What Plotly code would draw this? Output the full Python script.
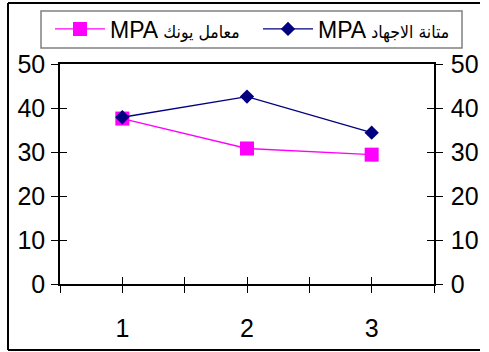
import plotly.graph_objects as go

categories = [1, 2, 3]
young_modulus = [37.6, 30.8, 29.4]      # معامل يونك MPA
stress_strength = [37.9, 42.6, 34.4]    # متانة الاجهاد MPA
y_ticks = [0, 10, 20, 30, 40, 50]
x_tickvals = [0.5, 1, 1.5, 2, 2.5, 3, 3.5]
x_ticktext = ["", "1", "", "2", "", "3", ""]

W, H = 489, 352
L, R, T, B = 60, 55, 64, 68
pw, ph = W - L - R, H - T - B

def px(x):
    return (x - L) / pw

def py(y):
    return (H - B - y) / ph

FONT = "Liberation Sans Narrow, Liberation Sans, Arial, sans-serif"
AR = "<span style='font-family:DejaVu Sans Condensed, DejaVu Sans;font-size:17.5px'>{}</span>"

fig = go.Figure()
fig.add_trace(go.Scatter(
    x=categories, y=young_modulus, mode="lines+markers",
    name="MPA " + AR.format("معامل يونك"), legend="legend",
    line=dict(color="#FF00FF", width=1.3),
    marker=dict(symbol="square", size=14, color="#FF00FF"),
))
fig.add_trace(go.Scatter(
    x=categories, y=stress_strength, mode="lines+markers",
    name="MPA " + AR.format("متانة الاجهاد"), legend="legend2",
    line=dict(color="#000080", width=1.3),
    marker=dict(symbol="diamond", size=11, color="#000080"),
))
# empty traces so the extra (tick-only) axes get drawn
for xa, ya in [("x", "y2"), ("x2", "y3"), ("x", "y4")]:
    fig.add_trace(go.Scatter(x=[], y=[], xaxis=xa, yaxis=ya, showlegend=False, hoverinfo="skip"))

tick_common = dict(showgrid=False, zeroline=False, tickcolor="black", tickwidth=1.3, ticklen=7)
line_common = dict(linecolor="black", linewidth=1.5)
tickfont = dict(family=FONT, size=25, color="black")
legfont = dict(family=FONT, size=23, color="black")

leg_common = dict(orientation="h", xanchor="left", yanchor="middle", bgcolor="rgba(0,0,0,0)",
                  borderwidth=0, font=legfont, itemwidth=50, tracegroupgap=0)

frame = dict(color="black", width=2)
fig.update_layout(
    width=W, height=H,
    margin=dict(l=L, r=R, t=T, b=B, pad=0, autoexpand=False),
    paper_bgcolor="white", plot_bgcolor="white",
    showlegend=True,
    legend=dict(x=px(50), y=py(29), **leg_common),
    legend2=dict(x=px(258), y=py(29), **leg_common),
    xaxis=dict(range=[0.5, 3.5], tickmode="array", tickvals=x_tickvals, ticktext=x_ticktext,
               ticks="outside", showline=True, mirror=True, tickfont=tickfont,
               ticklabelstandoff=14, **tick_common, **line_common),
    xaxis2=dict(range=[0.5, 3.5], overlaying="x", side="bottom", anchor="y",
                tickmode="array", tickvals=x_tickvals, ticks="inside", showticklabels=False,
                showline=False, **tick_common),
    yaxis=dict(range=[0, 50], tickmode="array", tickvals=y_ticks, ticks="outside",
               showline=True, tickfont=tickfont, ticklabelstandoff=1, **tick_common, **line_common),
    yaxis2=dict(range=[0, 50], overlaying="y", side="right", anchor="x", tickmode="array",
                tickvals=y_ticks, ticks="outside", showline=True, tickfont=tickfont,
                ticklabelstandoff=3, **tick_common, **line_common),
    yaxis3=dict(range=[0, 50], overlaying="y", side="left", anchor="x2", tickmode="array",
                tickvals=y_ticks, ticks="inside", showticklabels=False, showline=False,
                **tick_common),
    yaxis4=dict(range=[0, 50], overlaying="y", side="right", anchor="x", tickmode="array",
                tickvals=y_ticks, ticks="inside", showticklabels=False, showline=False,
                **tick_common),
    shapes=[
        # outer chart frame (left, top, bottom; right edge lies beyond the picture)
        dict(type="line", xref="paper", yref="paper", x0=px(8), x1=px(8), y0=py(350), y1=py(3), line=frame),
        dict(type="line", xref="paper", yref="paper", x0=px(8), x1=px(480), y0=py(3), y1=py(3), line=frame),
        dict(type="line", xref="paper", yref="paper", x0=px(8), x1=px(480), y0=py(350), y1=py(350), line=frame),
        # legend box
        dict(type="rect", xref="paper", yref="paper", x0=px(41), x1=px(462), y0=py(48), y1=py(11),
             line=dict(color="#808080", width=1.5), fillcolor="rgba(0,0,0,0)", layer="below"),
    ],
)

fig.write_html("out.html", config={"displayModeBar": False},
               post_script="document.body.style.margin='0px';document.body.style.overflow='hidden';")
